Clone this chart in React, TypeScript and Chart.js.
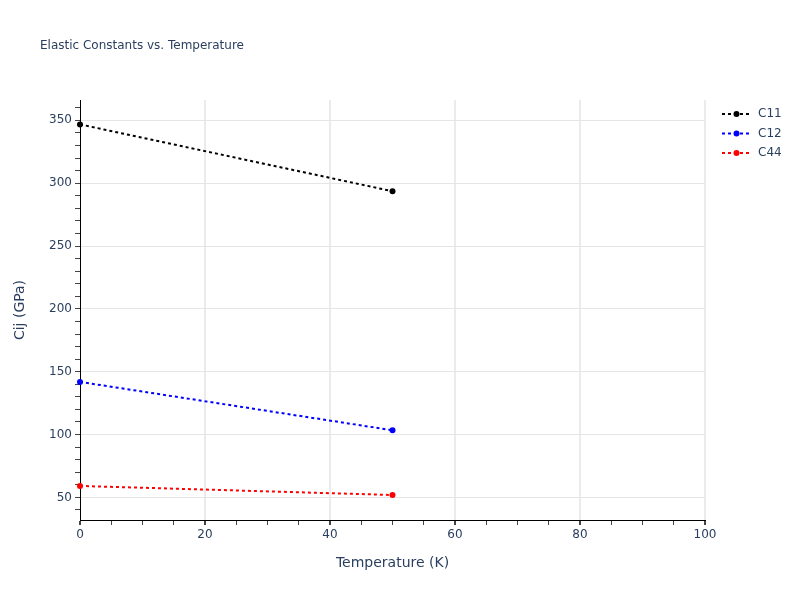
import React, { useEffect, useRef } from "react";
import { Chart, registerables } from "chart.js";

Chart.register(...registerables);

const temperatures = [0, 50];
const c11 = [346.8, 293.6];
const c12 = [141.9, 103.4];
const c44 = [59.1, 51.9];
const seriesNames = ["C11", "C12", "C44"];
const seriesColors = ["#000000", "#0000ff", "#ff0000"];
const chartTitle = "Elastic Constants vs. Temperature";
const xTitle = "Temperature (K)";
const yTitle = "Cij (GPa)";

const FONT = '"DejaVu Sans", Verdana, sans-serif';
const TEXT = "#2a3f5f";

const overlay = {
  id: "overlay",
  afterDraw(chart: any) {
    const ctx = chart.ctx;
    ctx.save();
    ctx.fillStyle = TEXT;
    ctx.font = `12px ${FONT}`;
    ctx.textBaseline = "middle";
    ctx.textAlign = "left";
    ctx.fillText(chartTitle, 40, 46);
    seriesNames.forEach((name, i) => {
      const y = 114 + i * 19.5;
      ctx.strokeStyle = seriesColors[i];
      ctx.lineWidth = 2;
      ctx.setLineDash([3, 3]);
      ctx.beginPath();
      ctx.moveTo(722, y);
      ctx.lineTo(751, y);
      ctx.stroke();
      ctx.setLineDash([]);
      ctx.fillStyle = seriesColors[i];
      ctx.beginPath();
      ctx.arc(736.5, y, 3, 0, Math.PI * 2);
      ctx.fill();
      ctx.fillStyle = TEXT;
      ctx.fillText(name, 758, y);
    });
    ctx.restore();
  },
};

export default function App() {
  const ref = useRef<HTMLCanvasElement>(null);
  useEffect(() => {
    if (!ref.current) return;
    const all = [c11, c12, c44];
    const chart = new Chart(ref.current, {
      type: "line",
      data: {
        datasets: seriesNames.map((name, i) => ({
          label: name,
          data: temperatures.map((t, j) => ({ x: t, y: all[i][j] })),
          borderColor: seriesColors[i],
          backgroundColor: seriesColors[i],
          borderWidth: 2,
          borderDash: [3, 3],
          pointRadius: 3,
          pointBorderWidth: 0,
          clip: false as any,
          tension: 0,
        })),
      },
      options: {
        responsive: false,
        animation: false,
        layout: { padding: { left: 0, right: 95, top: 100, bottom: 0 } },
        plugins: {
          legend: { display: false },
          title: { display: false },
          tooltip: { enabled: false },
        },
        scales: {
          x: {
            type: "linear",
            min: 0,
            max: 100,
            afterFit: (s: any) => {
              s.height = 80;
            },
            afterBuildTicks: (s: any) => {
              const t = [];
              for (let v = 0; v <= 100; v += 5) t.push({ value: v });
              s.ticks = t;
            },
            ticks: {
              autoSkip: false,
              maxRotation: 0,
              color: TEXT,
              font: { family: FONT, size: 12 },
              padding: 3,
              callback: (v: any) => (Number(v) % 20 === 0 ? String(v) : ""),
            },
            grid: {
              color: (c: any) =>
                c.tick && c.tick.value % 20 === 0 && c.tick.value !== 0 ? "#ebebeb" : "rgba(0,0,0,0)",
              tickColor: "#444444",
              tickLength: 5,
              lineWidth: (c: any) => (c.tick && c.tick.value % 20 === 0 ? 2 : 1),
            },
            border: { color: "#000000", width: 1 },
            title: {
              display: true,
              text: xTitle,
              color: TEXT,
              font: { family: FONT, size: 14 },
              padding: { top: 0, bottom: 28.6 },
            },
          },
          y: {
            type: "linear",
            min: 32,
            max: 366.2,
            afterFit: (s: any) => {
              s.width = 80;
            },
            afterBuildTicks: (s: any) => {
              const t = [];
              for (let v = 40; v <= 360; v += 10) t.push({ value: v });
              s.ticks = t;
            },
            ticks: {
              autoSkip: false,
              color: TEXT,
              font: { family: FONT, size: 12 },
              padding: 3,
              callback: (v: any) => (Number(v) % 50 === 0 ? String(v) : ""),
            },
            grid: {
              color: (c: any) =>
                c.tick && c.tick.value % 50 === 0 ? "#e5e5e5" : "rgba(0,0,0,0)",
              tickColor: "#444444",
              tickLength: 5,
              lineWidth: 1,
            },
            border: { color: "#000000", width: 1 },
            title: {
              display: true,
              text: yTitle,
              color: TEXT,
              font: { family: FONT, size: 14 },
              padding: { top: 11.6, bottom: 0 },
            },
          },
        },
      },
      plugins: [overlay],
    });
    return () => chart.destroy();
  }, []);
  return (
    <div style={{ position: "fixed", left: 0, top: 0, width: 800, height: 600, background: "#fff" }}>
      <canvas ref={ref} width={800} height={600} />
    </div>
  );
}
